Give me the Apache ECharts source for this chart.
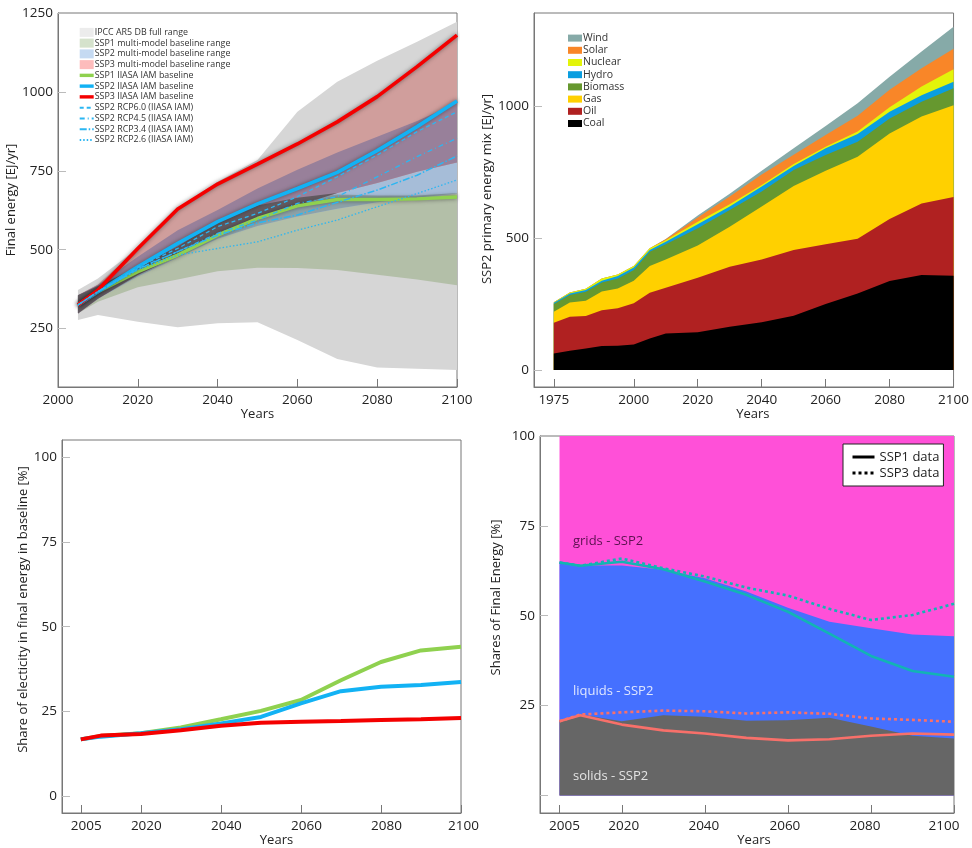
<!DOCTYPE html>
<html><head><meta charset="utf-8">
<style>html,body{margin:0;padding:0;background:#fff}#c{width:972px;height:848px}</style>
<script src="https://cdn.jsdelivr.net/npm/echarts@6/dist/echarts.min.js"></script>
</head><body><div id="c"></div>
<script>
// ---------- Panel A: final energy ----------
const yearsA = [2005,2010,2020,2030,2040,2050,2060,2070,2080,2090,2100];
const ipccLow  = [277,293,272,254,267,270,214,154,127,123,119];
const ipccHigh = [372,409,505,630,715,784,937,1032,1099,1159,1222];
const ssp1Low  = [298,335,381,406,432,443,442,436,421,406,387];
const ssp1High = [356,385,445,510,590,640,665,675,672,672,680];
const ssp2Low  = [298,345,415,475,535,575,605,630,650,665,678];
const ssp2High = [356,388,478,562,626,694,753,808,858,908,965];
const ssp3Low  = [298,345,420,480,550,600,640,680,711,747,776];
const ssp3High = [356,390,504,629,708,771,835,905,985,1080,1180];
const ssp1Base = [325,367,430,483,546,599,639,659,659,661,667];
const ssp2Base = [325,367,446,520,589,645,694,745,814,890,971];
const ssp3Base = [325,372,504,629,708,771,835,905,985,1080,1180];
const rcp60 = [325,367,445,504,573,615,668,731,800,874,937];
const rcp45 = [325,367,440,494,552,594,647,668,731,795,853];
const rcp34 = [325,367,438,494,546,585,610,650,689,736,797];
const rcp26 = [325,367,436,483,504,525,562,594,636,678,721];
// ---------- Panel B: primary energy mix ----------
const yearsB = [1975,1980,1985,1990,1995,2000,2005,2010,2020,2030,2040,2050,2060,2070,2080,2090,2100];
const coal    = [63,73,82,91,92,97,120,139,143,164,181,206,250,290,337,360,357];
const oil     = [116,129,123,136,142,156,173,173,207,227,238,249,226,207,235,271,298];
const gas     = [42,54,58,71,75,85,101,107,122,152,200,242,279,311,324,329,348];
const biomass = [29,28,34,34,38,41,54,57,65,63,57,61,59,57,57,56,64];
const hydro   = [5,6,6,6,9,9,7,10,15,13,19,15,26,29,25,25,25];
const nuclear = [2,4,5,9,6,6,6,6,10,9,6,7,6,9,17,33,47];
const solar   = [0,0,0,0,0,0,0,3,16,29,40,35,44,60,66,69,78];
const wind    = [0,0,0,0,0,0,0,1,7,11,14,25,34,47,50,63,83];
// ---------- Panel C: electricity share ----------
const elecSsp1 = [16.8,17.8,18.6,20.3,22.7,25.2,28.4,34.2,39.6,43,44.1];
const elecSsp2 = [16.8,17.6,18.6,19.8,21.5,23.4,27.4,31,32.3,32.8,33.7];
const elecSsp3 = [16.8,17.9,18.4,19.5,20.8,21.7,22,22.2,22.5,22.7,23.1];
// ---------- Panel D: shares of final energy ----------
const solids  = [20.6,22.5,20.6,22.3,21.9,20.8,20.9,21.6,19.2,16.6,15.8];
const liquids = [44.2,41.5,43.4,40.5,38.5,35.9,31.3,26.7,27.3,28.2,28.5];
const grids   = [35.2,36,36,37.2,39.6,43.3,47.8,51.7,53.5,55.2,55.7];
const gridsSsp1 = [64.8,63.9,65,62.9,59.5,55.8,51.1,45,38.8,34.6,33];
const gridsSsp3 = [64.8,63.9,65.9,63.2,60.9,57.8,55.6,51.9,48.8,50.2,53.3];
const solidsSsp1 = [20.6,22.3,19.7,18.1,17.2,16,15.3,15.6,16.6,17.2,16.9];
const solidsSsp3 = [20.6,22.5,23.1,23.6,23.4,22.8,23.1,22.7,21.4,21,20.5];
// tick labels
const ticksA = [2000,2020,2040,2060,2080,2100];
const ticksB = [1975,2000,2020,2040,2060,2080,2100];
const ticksCD = [2005,2020,2040,2060,2080,2100];

const FONT = '"Open Sans"';
const pts = (xs, ys) => xs.map((x, i) => [x, ys[i]]);
const cum = (...layers) => layers[0].map((_, i) => layers.reduce((s, l) => s + l[i], 0));
const overlapLow = (...lows) => lows[0].map((_, i) => Math.max(...lows.map(l => l[i])));
const overlapHigh = (low, ...highs) => highs[0].map((_, i) => Math.max(low[i], Math.min(...highs.map(h => h[i]))));

function axisX(i, min, max, ticks, nameGap, nameShift, offs) {
  const label = {customValues: ticks, fontFamily: FONT, fontSize: 13.5, color: '#222', margin: 6, hideOverlap: false};
  if (offs) {
    const rich = {};
    ticks.forEach(t => {
      const o = offs[t] || 0;
      rich['t' + t] = {fontFamily: FONT, fontSize: 13.5, color: '#222',
        padding: o >= 0 ? [0, 0, 0, 2 * o] : [0, -2 * o, 0, 0]};
    });
    label.formatter = v => '{t' + v + '|' + v + '}';
    label.rich = rich;
  } else {
    label.formatter = v => String(v);
  }
  return {type: 'value', gridIndex: i, min, max, position: 'bottom',
    name: 'Years', nameLocation: 'middle', nameGap,
    nameTextStyle: {fontFamily: FONT, fontSize: 13, color: '#222',
      padding: nameShift >= 0 ? [0, 0, 0, nameShift * 2] : [0, -nameShift * 2, 0, 0]},
    splitLine: {show: false},
    axisLine: {onZero: false, lineStyle: {color: '#777', width: 1}},
    axisTick: {customValues: ticks, inside: true, length: 8, lineStyle: {color: '#777'}},
    axisLabel: label};
}
function axisY(i, min, max, ticks, labels, name, nameGap, nameShift, nameSize) {
  return {type: 'value', gridIndex: i, min, max,
    name, nameLocation: 'middle', nameGap, nameRotate: 90,
    nameTextStyle: {fontFamily: FONT, fontSize: nameSize, color: '#222',
      padding: [0, 0, 0, nameShift * 2]},
    splitLine: {show: false},
    axisLine: {onZero: false, lineStyle: {color: '#777', width: 1}},
    axisTick: {customValues: ticks, inside: true, length: 8, lineStyle: {color: '#bbb'}},
    axisLabel: {customValues: labels, fontFamily: FONT, fontSize: 13.5, color: '#222', margin: 5,
      hideOverlap: false, formatter: v => String(v)}};
}
function band(name, low, high, color) {
  return {type: 'custom', name, xAxisIndex: 0, yAxisIndex: 0, z: 2, clip: false,
    itemStyle: {color}, silent: true, animation: false,
    encode: {x: 0, y: [1, 2]},
    data: yearsA.map((y, i) => [y, low[i], high[i]]),
    renderItem(params, api) {
      if (params.dataIndexInside !== 0) return null;
      const n = params.dataInsideLength, up = [], dn = [];
      for (let k = 0; k < n; k++) {
        const x = api.value(0, k);
        dn.push(api.coord([x, api.value(1, k)]));
        up.push(api.coord([x, api.value(2, k)]));
      }
      return {type: 'polygon', shape: {points: dn.concat(up.reverse())}, style: {fill: color}};
    }};
}
function lineA(name, ys, color, width, dash, shadow) {
  const s = {type: 'line', name, xAxisIndex: 0, yAxisIndex: 0, data: pts(yearsA, ys), symbol: 'none', z: dash ? 5 : 4,
    silent: true, animation: false,
    lineStyle: {color, width, type: dash || 'solid'}, itemStyle: {color}};
  if (shadow) { s.lineStyle.shadowColor = 'rgba(30,30,30,0.55)'; s.lineStyle.shadowBlur = 4; }
  return s;
}
// stacked layers are painted from the tallest cumulative curve down to the lowest
function stackB(name, ys, color) {
  return {type: 'line', name, xAxisIndex: 1, yAxisIndex: 1, data: pts(yearsB, ys), symbol: 'none',
    silent: true, animation: false, lineStyle: {width: 0, color}, itemStyle: {color},
    areaStyle: {color, opacity: 1, origin: 0}};
}
function lineC(name, ys, color) {
  return {type: 'line', name, xAxisIndex: 2, yAxisIndex: 2, data: pts(yearsA, ys), symbol: 'none',
    silent: true, animation: false, lineStyle: {color, width: 4}};
}
function stackD(name, ys, color) {
  return {type: 'line', name, xAxisIndex: 3, yAxisIndex: 3, data: pts(yearsA, ys), symbol: 'none', z: 2,
    silent: true, animation: false, lineStyle: {width: 0, color}, itemStyle: {color},
    areaStyle: {color, opacity: 1, origin: 0}};
}
function lineD(name, ys, color, dash) {
  return {type: 'line', name, xAxisIndex: 3, yAxisIndex: 3, data: pts(yearsA, ys), symbol: 'none', z: 4,
    silent: true, animation: false, lineStyle: {color, width: 2.6, type: dash || 'solid'}, itemStyle: {color}};
}
const TEAL = '#12b4b4', SALMON = '#f8706a', SKY = '#12b2f4';
const rcpCol = '#2bb6f2';
const noMarker = {color: 'transparent', borderWidth: 0, opacity: 0};
const o23 = overlapLow(ssp2Low, ssp3Low), o12 = overlapLow(ssp1Low, ssp2Low), o123 = overlapLow(ssp1Low, ssp2Low, ssp3Low);

const option = {
  backgroundColor: '#fff', animation: false,
  grid: [
    {left: 58, top: 13, width: 399, height: 374, show: true, borderColor: '#777', borderWidth: 1, backgroundColor: 'transparent'},
    {left: 534, top: 13, width: 420, height: 374, show: true, borderColor: '#777', borderWidth: 1, backgroundColor: 'transparent'},
    {left: 62, top: 440, width: 399, height: 374, show: true, borderColor: '#777', borderWidth: 1, backgroundColor: 'transparent'},
    {left: 540, top: 436, width: 414, height: 377, show: true, borderColor: '#777', borderWidth: 1, backgroundColor: 'transparent'}
  ],
  xAxis: [
    axisX(0, 2000, 2100, ticksA, 20, 0),
    axisX(1, 1968.8, 2100, ticksB, 20, 9),
    axisX(2, 2000.3, 2100, ticksCD, 21, 15, {2005: 5.5, 2020: 5.5, 2040: 5.5, 2060: 5.5, 2080: 5.5, 2100: 2.5}),
    axisX(3, 2000.3, 2100, ticksCD, 12, 7, {2005: 5, 2020: 2, 2040: -1, 2060: -3, 2080: -6, 2100: -10})
  ],
  yAxis: [
    axisY(0, 65, 1250, [250,500,750,1000,1250], [250,500,750,1000,1250], 'Final energy [EJ/yr]', 32, 0, 13),
    axisY(1, -64, 1352, [0,500,1000], [0,500,1000], 'SSP2 primary energy mix [EJ/yr]', 36, 11, 13),
    axisY(2, -4.9, 105, [0,25,50,75,100], [0,25,50,75,100], 'Share of electicity in final energy in baseline [%]', 27, 17, 13),
    axisY(3, -4.9, 100, [0,25,50,75,100], [25,50,75,100], 'Shares of Final Energy [%]', 37, 27, 13)
  ],
  legend: [
    {left: 78, top: 27, orient: 'vertical', itemWidth: 14, itemHeight: 9, itemGap: 0, padding: 0, selectedMode: false,
     textStyle: {fontFamily: FONT, fontSize: 8.9, color: '#333', lineHeight: 10.75, padding: [0,0,0,-4]},
     data: [
      {name: 'IPCC AR5 DB full range', icon: 'rect', itemStyle: {color: '#ececec'}},
      {name: 'SSP1 multi-model baseline range', icon: 'rect', itemStyle: {color: '#d5e2cc'}},
      {name: 'SSP2 multi-model baseline range', icon: 'rect', itemStyle: {color: '#c5daf2'}},
      {name: 'SSP3 multi-model baseline range', icon: 'rect', itemStyle: {color: '#fdbcbc'}},
      ...['SSP1 IIASA IAM baseline','SSP2 IIASA IAM baseline','SSP3 IIASA IAM baseline'
      ].map(name => ({name, itemStyle: noMarker, lineStyle: {width: 3.4, shadowBlur: 0}})),
      ...['SSP2 RCP6.0 (IIASA IAM)','SSP2 RCP4.5 (IIASA IAM)','SSP2 RCP3.4 (IIASA IAM)','SSP2 RCP2.6 (IIASA IAM)'
      ].map(name => ({name, itemStyle: noMarker}))
     ]},
    {left: 568, top: 32, orient: 'vertical', itemWidth: 14, itemHeight: 7, itemGap: 0, padding: 0, selectedMode: false,
     textStyle: {fontFamily: FONT, fontSize: 10.5, color: '#333', lineHeight: 12.2, padding: [0,0,0,-4]},
     data: ['Wind','Solar','Nuclear','Hydro','Biomass','Gas','Oil','Coal'].map(n => ({name: n, icon: 'rect'}))},
    {left: 843, top: 444, orient: 'vertical', itemWidth: 22, itemHeight: 10, itemGap: 0, padding: [5, 4, 5, 8], selectedMode: false,
     backgroundColor: '#fff', borderColor: '#222', borderWidth: 1, z: 10,
     textStyle: {fontFamily: FONT, fontSize: 13, color: '#222', lineHeight: 16},
     data: [
      {name: 'SSP1 data', lineStyle: {color: '#000', width: 3, type: 'solid'}, itemStyle: noMarker},
      {name: 'SSP3 data', lineStyle: {color: '#000', width: 3, type: [3, 3]}, itemStyle: noMarker}
     ]}
  ],
  graphic: [
    {type: 'text', left: 573, top: 535, z: 20, style: {text: 'grids - SSP2', fontFamily: FONT, fontSize: 13, fill: '#5c1250'}},
    {type: 'text', left: 573, top: 685, z: 20, style: {text: 'liquids - SSP2', fontFamily: FONT, fontSize: 13, fill: '#dfe6ff'}},
    {type: 'text', left: 573, top: 770, z: 20, style: {text: 'solids - SSP2', fontFamily: FONT, fontSize: 13, fill: '#e4e4e4'}}
  ],
  series: [
    band('IPCC AR5 DB full range', ipccLow, ipccHigh, '#d6d6d6'),
    band('SSP1 multi-model baseline range', ssp1Low, ssp1High, '#b3bfa8'),
    band('SSP2 multi-model baseline range', ssp2Low, ssp2High, '#a6bdd8'),
    band('SSP3 multi-model baseline range', ssp3Low, ssp3High, '#d09e9c'),
    band('SSP1 and SSP2 overlap', o12, overlapHigh(o12, ssp1High, ssp2High), '#8da2a8'),
    band('SSP2 and SSP3 overlap', o23, overlapHigh(o23, ssp2High, ssp3High), '#98809a'),
    band('all ranges overlap', o123, overlapHigh(o123, ssp1High, ssp2High, ssp3High), '#625a60'),
    lineA('SSP2 RCP6.0 (IIASA IAM)', rcp60, rcpCol, 1.3, [4, 3]),
    lineA('SSP2 RCP4.5 (IIASA IAM)', rcp45, rcpCol, 1.3, [5, 3, 1, 3]),
    lineA('SSP2 RCP3.4 (IIASA IAM)', rcp34, rcpCol, 1.5, [7, 2, 1.5, 2]),
    lineA('SSP2 RCP2.6 (IIASA IAM)', rcp26, rcpCol, 1.3, [1.5, 2]),
    lineA('SSP1 IIASA IAM baseline', ssp1Base, '#8fd14f', 3.4, null, true),
    lineA('SSP2 IIASA IAM baseline', ssp2Base, SKY, 3.6, null, true),
    lineA('SSP3 IIASA IAM baseline', ssp3Base, '#f40000', 3.6, null, true),

    stackB('Wind', cum(coal, oil, gas, biomass, hydro, nuclear, solar, wind), '#86aaa8'),
    stackB('Solar', cum(coal, oil, gas, biomass, hydro, nuclear, solar), '#f98628'),
    stackB('Nuclear', cum(coal, oil, gas, biomass, hydro, nuclear), '#e3f40a'),
    stackB('Hydro', cum(coal, oil, gas, biomass, hydro), '#0a9ee0'),
    stackB('Biomass', cum(coal, oil, gas, biomass), '#66982f'),
    stackB('Gas', cum(coal, oil, gas), '#ffd000'),
    stackB('Oil', cum(coal, oil), '#b02121'),
    stackB('Coal', coal, '#000000'),

    lineC('SSP1 share', elecSsp1, '#8fd14f'),
    lineC('SSP2 share', elecSsp2, SKY),
    lineC('SSP3 share', elecSsp3, '#f40000'),

    stackD('grids - SSP2', cum(solids, liquids, grids), '#ff50d8'),
    stackD('liquids - SSP2', cum(solids, liquids), '#4570ff'),
    stackD('solids - SSP2', solids, '#666666'),
    lineD('SSP1 data', gridsSsp1, TEAL),
    lineD('SSP3 data', gridsSsp3, TEAL, [3, 3]),
    lineD('SSP1 solids', solidsSsp1, SALMON),
    lineD('SSP3 solids', solidsSsp3, SALMON, [3, 3])
  ]
};
echarts.init(document.getElementById('c'), null, {renderer: 'canvas'}).setOption(option);
</script></body></html>
